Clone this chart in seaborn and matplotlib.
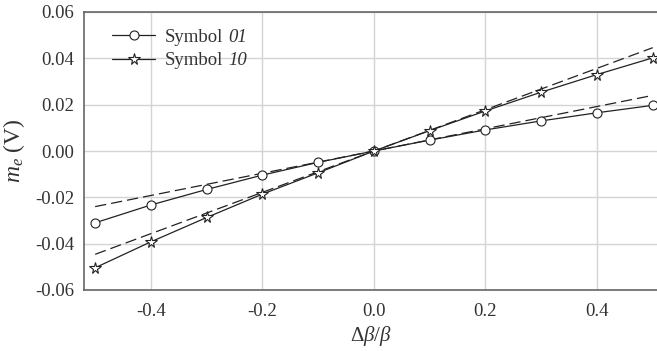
import numpy as np
import pandas as pd
import seaborn as sns
import matplotlib
matplotlib.use("Agg")
import matplotlib.pyplot as plt

# Relative change of beta
x_vals = [-0.5, -0.4, -0.3, -0.2, -0.1, 0.0, 0.1, 0.2, 0.3, 0.4, 0.5]
# Measured output m_e (V) for each symbol
sym01 = [-0.0310, -0.0233, -0.0166, -0.0104, -0.0049, 0.0, 0.0047, 0.0091, 0.0130, 0.0165, 0.0197]
sym10 = [-0.0504, -0.0392, -0.0287, -0.0186, -0.0094, 0.0, 0.0088, 0.0173, 0.0254, 0.0330, 0.0402]
# Linear (small-signal) reference lines
lin_x = [-0.5, 0.5]
lin01 = [-0.0240, 0.0240]
lin10 = [-0.0446, 0.0446]

symbol_codes = ["01", "10"]
labels = ["Symbol " + c for c in symbol_codes]

sns.set_style("whitegrid")
plt.rcParams["font.family"] = ["Liberation Serif", "DejaVu Serif"]
plt.rcParams["mathtext.fontset"] = "custom"
plt.rcParams["mathtext.rm"] = "Liberation Serif"
plt.rcParams["mathtext.it"] = "Liberation Serif:style=italic"

df = pd.DataFrame({
    "x": x_vals * 2,
    "y": sym01 + sym10,
    "series": [labels[0]] * len(x_vals) + [labels[1]] * len(x_vals),
})

fig = plt.figure(figsize=(6.57, 3.51), dpi=100)
ax = fig.add_axes([84 / 657, 1 - 290 / 351, 1 - 84 / 657, (290 - 12) / 351])

# dashed linear references
sns.lineplot(x=lin_x, y=lin01, ax=ax, color="#222222", lw=0.9,
             linestyle=(0, (9, 4)), legend=False)
sns.lineplot(x=lin_x, y=lin10, ax=ax, color="#222222", lw=0.9,
             linestyle=(0, (9, 4)), legend=False)

sns.lineplot(data=df, x="x", y="y", hue="series", style="series",
             palette=["#222222", "#222222"], markers=["o", "*"], dashes=False,
             markersize=6.5, markerfacecolor="white", markeredgecolor="#222222",
             markeredgewidth=0.8, lw=0.9, ax=ax)
# star marker drawn slightly larger than the circle
for line in ax.get_lines():
    if line.get_marker() == "*":
        line.set_markersize(8.5)

ax.set_xlim(-0.520, 0.5076)
ax.set_ylim(-0.06, 0.06)
ax.set_xticks([-0.4, -0.2, 0.0, 0.2, 0.4])
ax.set_xticklabels(["-0.4", "-0.2", "0.0", "0.2", "0.4"])
ax.set_yticks([-0.06, -0.04, -0.02, 0.0, 0.02, 0.04, 0.06])
ax.set_yticklabels(["-0.06", "-0.04", "-0.02", "0.00", "0.02", "0.04", "0.06"])

ax.grid(True, color="#d4d4d4", lw=1.0)
for side in ["left", "bottom", "top"]:
    ax.spines[side].set_visible(True)
    ax.spines[side].set_color("#666666")
    ax.spines[side].set_linewidth(1.2)
ax.spines["right"].set_visible(False)
ax.tick_params(axis="both", direction="in", length=4, width=1.0, color="#444444",
               labelsize=13.5, labelcolor="#333333", pad=7)
ax.tick_params(axis="x", pad=9)

ax.set_xlabel("$\\Delta\\beta/\\beta$", fontsize=15, color="#333333", labelpad=3)
ax.set_ylabel("$m_e$ (V)", fontsize=17, color="#333333", labelpad=6)

handles, labs = ax.get_legend_handles_labels()
for h in handles:
    h.set_markerfacecolor("white")
    h.set_markeredgecolor("#222222")
leg = ax.legend(handles, labs, loc="upper left", frameon=False, fontsize=13.5,
                handlelength=2.3, handletextpad=0.5, labelspacing=0.32,
                bbox_to_anchor=(0.02, 1.0))

# legend text: upright word, italic symbol code
for t in leg.get_texts():
    t.set_text("Symbol")
    t.set_color("#333333")
fig.canvas.draw()
for t, code in zip(leg.get_texts(), symbol_codes):
    ax.annotate(code, xy=(1, 0), xycoords=t, xytext=(3.5, 0),
                textcoords="offset points", ha="left", va="bottom",
                fontsize=13.5, fontstyle="italic", color="#333333", zorder=10)

fig.savefig("out.png", dpi=100)
